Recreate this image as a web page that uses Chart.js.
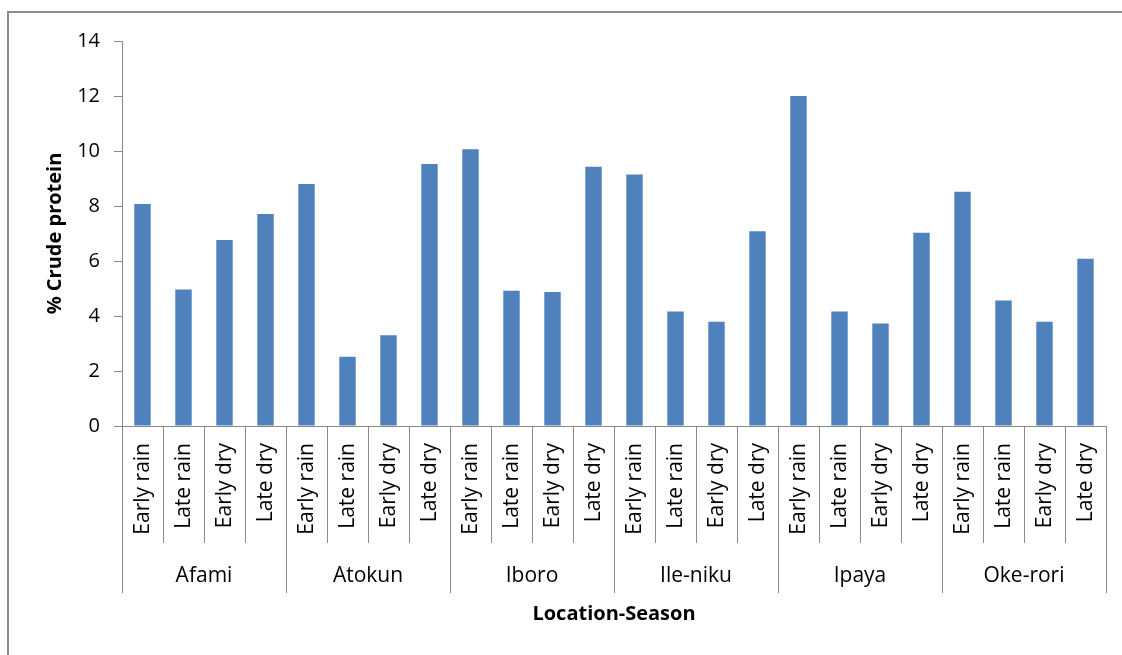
<!DOCTYPE html>
<html lang="en">
<head>
    <title>% Crude protein by location and season</title>
    <meta charset="UTF-8">
    <script src="https://cdn.jsdelivr.net/npm/chart.js"></script>
    <style>
        body { margin: 0; background: #fff; }
        canvas { display: block; }
    </style>
</head>
<body>
<canvas id="proteinChart" width="1122" height="655"></canvas>

<script>
    // locations (outer group) and seasons (inner category)
    const locations = ['Afami', 'Atokun', 'Iboro', 'Ile-niku', 'Ipaya', 'Oke-rori'];
    const seasons = ['Early rain', 'Late rain', 'Early dry', 'Late dry'];

    // % crude protein, one array per location, in season order
    const afami = [8.07, 4.96, 6.76, 7.71];
    const atokun = [8.80, 2.52, 3.30, 9.53];
    const iboro = [10.06, 4.92, 4.87, 9.43];
    const ileNiku = [9.15, 4.16, 3.79, 7.08];
    const ipaya = [12.00, 4.16, 3.73, 7.03];
    const okeRori = [8.52, 4.56, 3.79, 6.08];

    const yTicks = [0, 2, 4, 6, 8, 10, 12, 14];

    const allValues = [afami, atokun, iboro, ileNiku, ipaya, okeRori];
    const labels = [];
    const values = [];
    locations.forEach((loc, g) => {
        seasons.forEach((s, k) => {
            labels.push(s);
            values.push(allValues[g][k]);
        });
    });

    const axisGray = '#8a8a8a';
    const textFont = '"Open Sans", "DejaVu Sans", sans-serif';

    // draws the two-level category axis, axis titles and the outer frame
    const groupAxis = {
        id: 'groupAxis',
        afterDraw(chart) {
            const ctx = chart.ctx;
            const x = chart.scales.x;
            const area = chart.chartArea;
            const step = x.getPixelForValue(1) - x.getPixelForValue(0);

            ctx.save();
            // outer frame
            ctx.strokeStyle = '#8c8c8c';
            ctx.lineWidth = 2;
            ctx.strokeRect(8, 12, 1300, 1300);

            // divider lines
            ctx.strokeStyle = axisGray;
            ctx.lineWidth = 1;
            for (let i = 0; i <= labels.length; i++) {
                const px = Math.round(x.getPixelForValue(i) - step / 2) + 0.5;
                const bottom = (i % seasons.length === 0) ? area.bottom + 167 : area.bottom + 117;
                ctx.beginPath();
                ctx.moveTo(px, area.bottom);
                ctx.lineTo(px, bottom);
                ctx.stroke();
            }

            // season labels, rotated
            ctx.fillStyle = '#000';
            ctx.font = '21px ' + textFont;
            ctx.textAlign = 'right';
            ctx.textBaseline = 'middle';
            labels.forEach((lab, i) => {
                ctx.save();
                ctx.translate(x.getPixelForValue(i) + 1, area.bottom + 17);
                ctx.rotate(-Math.PI / 2);
                ctx.fillText(lab, 0, 0);
                ctx.restore();
            });

            // location labels
            ctx.textAlign = 'center';
            locations.forEach((loc, g) => {
                const first = x.getPixelForValue(g * seasons.length);
                const last = x.getPixelForValue(g * seasons.length + seasons.length - 1);
                ctx.fillText(loc, (first + last) / 2, area.bottom + 150);
            });

            // axis titles
            ctx.font = 'bold 20px ' + textFont;
            ctx.fillText('Location-Season', (area.left + area.right) / 2, area.bottom + 188);
            ctx.save();
            ctx.translate(55, (area.top + area.bottom) / 2);
            ctx.rotate(-Math.PI / 2);
            ctx.fillText('% Crude protein', 0, 0);
            ctx.restore();

            ctx.restore();
        }
    };

    const ctx = document.getElementById('proteinChart').getContext('2d');
    const proteinChart = new Chart(ctx, {
        type: 'bar',
        data: {
            labels: labels,
            datasets: [{
                label: '% Crude protein',
                data: values,
                backgroundColor: '#4f81bd',
                barPercentage: 0.4,
                categoryPercentage: 1.0
            }]
        },
        options: {
            responsive: false,
            animation: false,
            layout: { padding: { top: 41, right: 16, bottom: 0, left: 0 } },
            plugins: {
                legend: { display: false },
                tooltip: { enabled: false }
            },
            scales: {
                x: {
                    offset: true,
                    grid: { display: false },
                    ticks: { display: false },
                    border: { color: axisGray, width: 1 },
                    afterFit(scale) { scale.height = 229; }
                },
                y: {
                    min: 0,
                    max: 14,
                    afterBuildTicks(scale) {
                        scale.ticks = yTicks.map(v => ({ value: v }));
                    },
                    ticks: {
                        color: '#000',
                        padding: 14,
                        font: { family: textFont, size: 20 }
                    },
                    grid: {
                        drawOnChartArea: false,
                        drawTicks: true,
                        tickLength: 8,
                        color: axisGray
                    },
                    border: { color: axisGray, width: 1 },
                    afterFit(scale) { scale.width = 122; }
                }
            }
        },
        plugins: [groupAxis]
    });
</script>
</body>
</html>
